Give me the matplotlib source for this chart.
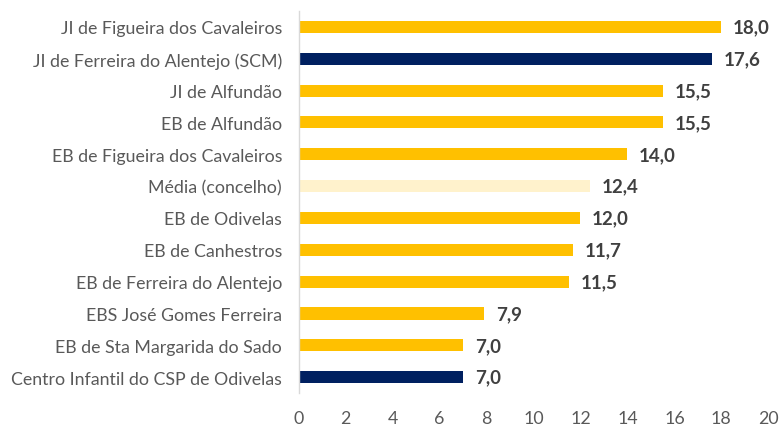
import matplotlib
matplotlib.use("Agg")
import matplotlib.pyplot as plt

categories = [
    "JI de Figueira dos Cavaleiros",
    "JI de Ferreira do Alentejo (SCM)",
    "JI de Alfundão",
    "EB de Alfundão",
    "EB de Figueira dos Cavaleiros",
    "Média (concelho)",
    "EB de Odivelas",
    "EB de Canhestros",
    "EB de Ferreira do Alentejo",
    "EBS José Gomes Ferreira",
    "EB de Sta Margarida do Sado",
    "Centro Infantil do CSP de Odivelas",
]
values = [18.0, 17.6, 15.5, 15.5, 14.0, 12.4, 12.0, 11.7, 11.5, 7.9, 7.0, 7.0]
kinds = ["y", "n", "y", "y", "y", "m", "y", "y", "y", "y", "y", "n"]
xticks = [0, 2, 4, 6, 8, 10, 12, 14, 16, 18, 20]

color_map = {"y": "#FFC000", "n": "#002060", "m": "#FFF2CC"}
colors = [color_map[k] for k in kinds]

plt.rcParams['font.family'] = ['Lato', 'DejaVu Sans']

fig = plt.figure(figsize=(7.84, 4.27), dpi=100)
ax = fig.add_axes([0.381, 0.077, 0.599, 0.895])

ypos = list(range(len(categories)))[::-1]
ax.barh(ypos, values, height=0.38, color=colors)
for y, v in zip(ypos, values):
    ax.text(v + 0.5, y, f"{v:.1f}".replace(".", ","), va="center", ha="left",
            fontsize=13.5, fontweight="bold", color="#404040")

ax.set_yticks(ypos)
ax.set_yticklabels(categories, fontsize=12.8, color="#595959")
ax.set_xticks(xticks)
ax.set_xticklabels([str(t) for t in xticks], fontsize=12.8, color="#595959")
ax.set_xlim(0, 20)
ax.set_ylim(-0.5, len(categories) - 0.5)
ax.tick_params(axis="both", length=0)
ax.tick_params(axis="y", pad=12)
ax.tick_params(axis="x", pad=12.5)
for s in ["top", "right", "bottom"]:
    ax.spines[s].set_visible(False)
ax.spines["left"].set_color("#D9D9D9")
ax.spines["left"].set_linewidth(1.0)

fig.savefig("out.png", dpi=100)
